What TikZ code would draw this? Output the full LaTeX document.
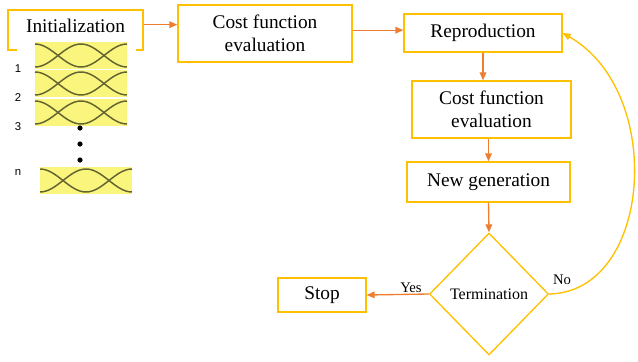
\documentclass[tikz,border=0pt]{standalone}
\usepackage{fontspec}
\setmainfont{Liberation Serif}
\newfontfamily\rowfont{Liberation Sans}
\usetikzlibrary{arrows.meta,shapes.geometric}

\definecolor{boxgold}{RGB}{255,192,0}
\definecolor{linkorange}{RGB}{237,125,49}
\definecolor{tileyellow}{RGB}{250,246,125}
\definecolor{waveolive}{RGB}{100,100,50}

\tikzset{every picture/.style={line width=0.75pt}}
\tikzset{
  stepbox/.style={draw=boxgold, line width=1pt, inner sep=0pt, align=center,
    font=\fontsize{14.5}{17.5}\selectfont},
  testbox/.style={stepbox, shape=diamond, font=\fontsize{12}{14}\selectfont},
  flowlink/.style={draw=linkorange, line width=1pt, -{Triangle[length=6pt,width=5pt]}},
  looplink/.style={draw=boxgold, line width=1pt, -{Triangle[length=6pt,width=5pt]}},
  branchtext/.style={inner sep=0.75pt, font=\fontsize{11}{13}\selectfont},
  rowtext/.style={inner sep=0.75pt, font=\rowfont\fontsize{8.5}{10}\selectfont},
  wave/.style={draw=waveolive, line width=1.1pt},
}

\begin{document}
\begin{tikzpicture}[x=0.75pt,y=0.75pt,yscale=-1,xscale=1]
        \useasboundingbox (0,0) rectangle (638,361);
        % Initialization box
        \node [stepbox, minimum width=101.25pt, minimum height=30pt, text depth=6pt] (init) at (75.5,30) {Initialization};
        % white strip over the bottom edge, behind the population picture
        \fill [white] (17,44) rectangle (136,56);
        % population rows
        \foreach \tx/\ty in {35/42,35/70,35/99,40/167}{
          \fill [tileyellow] (\tx,\ty) rectangle ++(92,27);
          \draw [wave] (\tx,\ty+2) cos ++(23,11.5) sin ++(23,11.5) cos ++(23,-11.5) sin ++(23,-11.5);
          \draw [wave] (\tx,\ty+25) cos ++(23,-11.5) sin ++(23,-11.5) cos ++(23,11.5) sin ++(23,11.5);
        }
        \fill (80,128) circle (2.6);
        \fill (80,144) circle (2.6);
        \fill (80,160) circle (2.6);
        \node [rowtext] (row1) at (18,69) {1};
        \node [rowtext] (row2) at (18,98) {2};
        \node [rowtext] (row3) at (18,127) {3};
        \node [rowtext] (rown) at (18,172) {n};
        % Flow boxes
        \node [stepbox, minimum width=130.5pt, minimum height=42.75pt] (costA) at (265,33.5) {Cost function\\evaluation};
        \node [stepbox, minimum width=118.5pt, minimum height=28.5pt] (repro) at (483,33) {Reproduction};
        \node [stepbox, minimum width=119.25pt, minimum height=42.75pt] (costB) at (491.5,109.5) {Cost function\\evaluation};
        \node [stepbox, minimum width=122.25pt, minimum height=30pt] (newgen) at (488.5,182) {New generation};
        \node [testbox, minimum width=89.25pt, minimum height=91.5pt] (term) at (489,294) {Termination};
        \node [stepbox, minimum width=66pt, minimum height=25.5pt] (stop) at (322,295) {Stop};
        % Connectors
        \draw [flowlink] ([yshift=-4pt]init.east) -- ([yshift=-4pt]init.east -| costA.west);
        \draw [flowlink] ([yshift=-2.5pt]costA.east) -- ([yshift=-2.5pt]costA.east -| repro.west);
        \draw [flowlink] (repro.south) -- (repro.south |- costB.north);
        \draw [flowlink] (newgen.north |- costB.south) -- (newgen.north);
        \draw [flowlink] (newgen.south) -- (term.north);
        \draw [flowlink] (term.west) -- (stop.east);
        \draw [looplink] (term.east) .. controls (652,292) and (666,92) .. (repro.east);
        % Branch labels
        \node [branchtext] (yes) at (411,288) {Yes};
        \node [branchtext] (no) at (562,280) {No};
\end{tikzpicture}
\end{document}
